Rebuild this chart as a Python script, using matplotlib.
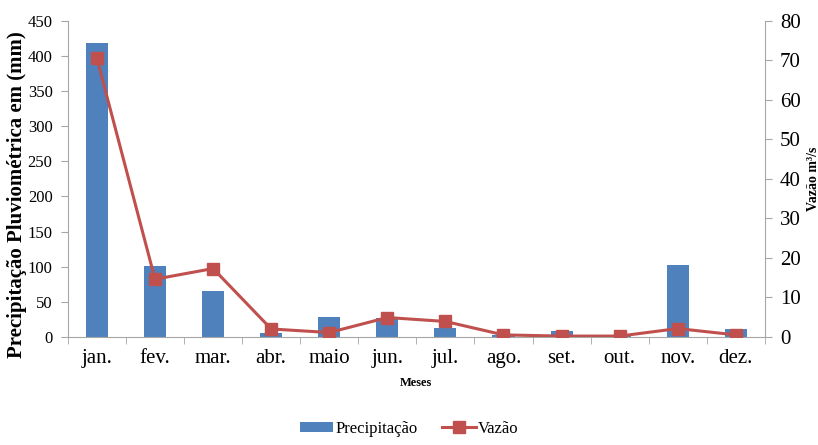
import numpy as np
import matplotlib
matplotlib.use('Agg')
import matplotlib.pyplot as plt

meses = ['jan.', 'fev.', 'mar.', 'abr.', 'maio', 'jun.', 'jul.', 'ago.', 'set.', 'out.', 'nov.', 'dez.']
precipitacao = [418, 101, 66, 6, 28, 27, 13, 3, 8, 1, 103, 11]
vazao = [70.5, 14.6, 17.3, 2.0, 1.1, 4.9, 3.9, 0.5, 0.2, 0.2, 2.1, 0.5]

plt.rcParams['font.family'] = ['Liberation Serif', 'DejaVu Serif']

fig = plt.figure(figsize=(8.18, 4.45), dpi=100)
ax = fig.add_axes([0.083, 0.243, 0.852, 0.71])
ax2 = ax.twinx()

x = np.arange(len(meses))
gray = '#a6a6a6'
ax.bar(x, precipitacao, width=0.38, color='#4f81bd', label='Precipitação', zorder=2)
ax2.plot(x, vazao, color='#c0504d', marker='s', markersize=8, linewidth=2.2,
         label='Vazão', zorder=3)

ax.set_xlim(-0.5, 11.5)
ax.set_ylim(0, 450)
ax.set_yticks(np.arange(0, 451, 50))
ax2.set_ylim(0, 80)
ax2.set_yticks(np.arange(0, 81, 10))

ax.set_xticks(x)
ax.set_xticklabels(meses, fontsize=15)
ax.set_xticks(np.arange(-0.5, 12, 1), minor=True)
ax.tick_params(axis='x', which='major', length=0, pad=9)
ax.tick_params(axis='x', which='minor', length=5, color=gray, direction='out')
ax.tick_params(axis='y', labelsize=12, length=5, color=gray, direction='out', pad=6)
ax2.tick_params(axis='y', labelsize=15, length=5, color=gray, direction='out', pad=6)

for a in (ax, ax2):
    a.spines['top'].set_visible(False)
    for s in ('left', 'right', 'bottom'):
        a.spines[s].set_color(gray)
ax.spines['right'].set_visible(False)
ax2.spines['left'].set_visible(False)
ax2.spines['bottom'].set_visible(False)

ax.set_ylabel('Precipitação Pluviométrica em (mm)', fontsize=15, fontweight='bold')
ax.yaxis.set_label_coords(-0.058, 0.45)
ax2.set_ylabel('Vazão m³/s', fontsize=10, fontweight='bold', labelpad=4)
ax.set_xlabel('Meses', fontsize=9, fontweight='bold', labelpad=6)

h1, l1 = ax.get_legend_handles_labels()
h2, l2 = ax2.get_legend_handles_labels()
fig.legend(h1 + h2, l1 + l2, loc='lower center', bbox_to_anchor=(0.5, -0.015), ncol=2,
           frameon=False, fontsize=12, handlelength=2.0, handletextpad=0.1,
           columnspacing=1.5, handleheight=0.6)

fig.savefig('out.png', dpi=100)
